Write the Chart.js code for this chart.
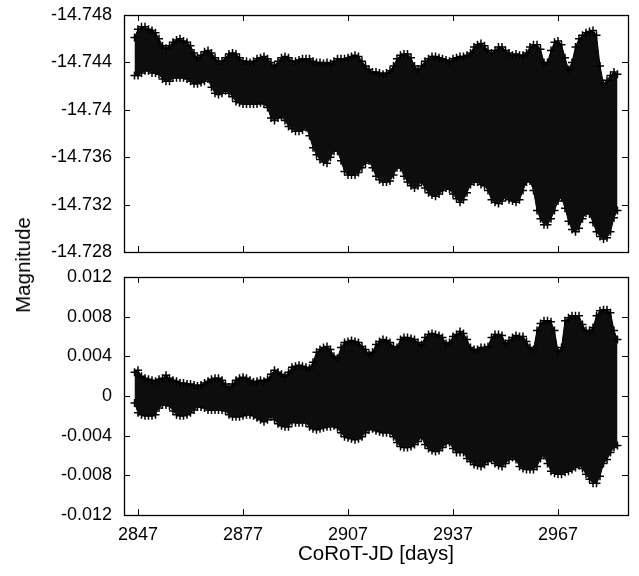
<!DOCTYPE html>
<html>
<head>
<meta charset="utf-8">
<script src="https://cdn.jsdelivr.net/npm/chart.js@4/dist/chart.umd.min.js"></script>
<style>
  body { margin: 0; background: #fff; }
  #wrap { position: relative; width: 639px; height: 576px; }
  .pane { position: absolute; left: 0; width: 639px; }
  #ylab {
    position: absolute; left: 23px; top: 265px;
    transform: translate(-50%, -50%) rotate(-90deg);
    font: 20.5px 'Liberation Sans', Arial, sans-serif; color: #000; white-space: nowrap;
  }
</style>
</head>
<body>
<div id="wrap">
  <div class="pane" style="top:0;height:265px"><canvas id="magChart" width="639" height="265"></canvas></div>
  <div class="pane" style="top:265px;height:311px"><canvas id="resChart" width="639" height="311"></canvas></div>
  <div id="ylab">Magnitude</div>
</div>
<script>
// sampling days (CoRoT-JD) where the band edges were read
const days = [
  2846, 2847, 2848, 2849, 2850, 2851, 2852, 2853, 2854, 2855,
  2856, 2857, 2858, 2859, 2860, 2861, 2862, 2863, 2864, 2865,
  2866, 2867, 2868, 2869, 2870, 2871, 2872, 2873, 2874, 2875,
  2876, 2877, 2878, 2879, 2880, 2881, 2882, 2883, 2884, 2885,
  2886, 2887, 2888, 2889, 2890, 2891, 2892, 2893, 2894, 2895,
  2896, 2897, 2898, 2899, 2900, 2901, 2902, 2903, 2904, 2905,
  2906, 2907, 2908, 2909, 2910, 2911, 2912, 2913, 2914, 2915,
  2916, 2917, 2918, 2919, 2920, 2921, 2922, 2923, 2924, 2925,
  2926, 2927, 2928, 2929, 2930, 2931, 2932, 2933, 2934, 2935,
  2936, 2937, 2938, 2939, 2940, 2941, 2942, 2943, 2944, 2945,
  2946, 2947, 2948, 2949, 2950, 2951, 2952, 2953, 2954, 2955,
  2956, 2957, 2958, 2959, 2960, 2961, 2962, 2963, 2964, 2965,
  2966, 2967, 2968, 2969, 2970, 2971, 2972, 2973, 2974, 2975,
  2976, 2977, 2978, 2979, 2980, 2981, 2982, 2983, 2984
];

// raw magnitude, bright edge of the band
const magUpper = [
  -14.7461, -14.7468, -14.7470, -14.7470, -14.7468, -14.7467, -14.7465, -14.7460, -14.7454, -14.7452,
  -14.7454, -14.7457, -14.7459, -14.7460, -14.7458, -14.7457, -14.7454, -14.7448, -14.7444, -14.7446,
  -14.7449, -14.7450, -14.7448, -14.7444, -14.7441, -14.7441, -14.7444, -14.7447, -14.7448, -14.7447,
  -14.7444, -14.7441, -14.7441, -14.7440, -14.7441, -14.7443, -14.7444, -14.7445, -14.7443, -14.7440,
  -14.7437, -14.7441, -14.7444, -14.7445, -14.7444, -14.7441, -14.7441, -14.7442, -14.7443, -14.7443,
  -14.7443, -14.7441, -14.7440, -14.7440, -14.7439, -14.7440, -14.7439, -14.7441, -14.7443, -14.7443,
  -14.7443, -14.7444, -14.7445, -14.7446, -14.7445, -14.7441, -14.7437, -14.7434, -14.7432, -14.7432,
  -14.7431, -14.7430, -14.7431, -14.7433, -14.7437, -14.7443, -14.7446, -14.7447, -14.7447, -14.7444,
  -14.7437, -14.7434, -14.7437, -14.7441, -14.7443, -14.7445, -14.7445, -14.7444, -14.7443, -14.7442,
  -14.7441, -14.7443, -14.7444, -14.7445, -14.7445, -14.7446, -14.7448, -14.7453, -14.7455, -14.7456,
  -14.7454, -14.7450, -14.7448, -14.7450, -14.7453, -14.7453, -14.7450, -14.7448, -14.7446, -14.7447,
  -14.7446, -14.7446, -14.7448, -14.7453, -14.7455, -14.7455, -14.7451, -14.7440, -14.7440, -14.7450,
  -14.7457, -14.7458, -14.7455, -14.7444, -14.7434, -14.7440, -14.7453, -14.7460, -14.7463, -14.7465,
  -14.7466, -14.7467, -14.7463, -14.7437, -14.7422, -14.7425, -14.7429, -14.7432, -14.7430
];

// raw magnitude, faint edge of the band
const magLower = [
  -14.7429, -14.7429, -14.7431, -14.7433, -14.7433, -14.7431, -14.7431, -14.7430, -14.7426, -14.7424,
  -14.7424, -14.7427, -14.7427, -14.7427, -14.7427, -14.7426, -14.7424, -14.7422, -14.7422, -14.7423,
  -14.7424, -14.7426, -14.7419, -14.7414, -14.7413, -14.7414, -14.7416, -14.7414, -14.7411, -14.7407,
  -14.7406, -14.7405, -14.7405, -14.7405, -14.7405, -14.7405, -14.7406, -14.7405, -14.7402, -14.7393,
  -14.7391, -14.7393, -14.7394, -14.7391, -14.7386, -14.7384, -14.7382, -14.7382, -14.7383, -14.7385,
  -14.7378, -14.7368, -14.7362, -14.7358, -14.7356, -14.7355, -14.7360, -14.7365, -14.7365, -14.7357,
  -14.7348, -14.7345, -14.7345, -14.7345, -14.7347, -14.7351, -14.7355, -14.7357, -14.7351, -14.7344,
  -14.7341, -14.7339, -14.7339, -14.7340, -14.7345, -14.7351, -14.7351, -14.7344, -14.7339, -14.7336,
  -14.7334, -14.7336, -14.7339, -14.7334, -14.7330, -14.7328, -14.7327, -14.7329, -14.7332, -14.7334,
  -14.7333, -14.7329, -14.7325, -14.7322, -14.7324, -14.7330, -14.7337, -14.7339, -14.7339, -14.7337,
  -14.7336, -14.7332, -14.7324, -14.7322, -14.7321, -14.7323, -14.7326, -14.7324, -14.7323, -14.7322,
  -14.7324, -14.7332, -14.7339, -14.7340, -14.7332, -14.7315, -14.7308, -14.7303, -14.7303, -14.7308,
  -14.7315, -14.7323, -14.7326, -14.7317, -14.7306, -14.7299, -14.7297, -14.7300, -14.7308, -14.7313,
  -14.7312, -14.7305, -14.7297, -14.7293, -14.7291, -14.7292, -14.7297, -14.7309, -14.7315
];

// detrended residuals, upper edge
const resUpper = [
  0.0024, 0.0026, 0.0020, 0.0018, 0.0017, 0.0016, 0.0015, 0.0017, 0.0018, 0.0021,
  0.0018, 0.0016, 0.0015, 0.0013, 0.0013, 0.0012, 0.0012, 0.0011, 0.0010, 0.0011,
  0.0013, 0.0015, 0.0017, 0.0018, 0.0018, 0.0016, 0.0012, 0.0009, 0.0012, 0.0016,
  0.0018, 0.0019, 0.0018, 0.0016, 0.0014, 0.0015, 0.0016, 0.0015, 0.0017, 0.0022,
  0.0026, 0.0024, 0.0022, 0.0020, 0.0024, 0.0029, 0.0030, 0.0031, 0.0030, 0.0029,
  0.0028, 0.0034, 0.0044, 0.0047, 0.0049, 0.0050, 0.0047, 0.0040, 0.0038, 0.0049,
  0.0054, 0.0055, 0.0056, 0.0055, 0.0054, 0.0050, 0.0047, 0.0042, 0.0044, 0.0052,
  0.0055, 0.0057, 0.0056, 0.0054, 0.0050, 0.0049, 0.0057, 0.0059, 0.0059, 0.0058,
  0.0057, 0.0054, 0.0052, 0.0059, 0.0062, 0.0063, 0.0062, 0.0061, 0.0059, 0.0053,
  0.0054, 0.0060, 0.0062, 0.0065, 0.0063, 0.0057, 0.0049, 0.0047, 0.0047, 0.0049,
  0.0049, 0.0050, 0.0059, 0.0062, 0.0062, 0.0061, 0.0053, 0.0056, 0.0059, 0.0061,
  0.0060, 0.0060, 0.0055, 0.0049, 0.0047, 0.0066, 0.0073, 0.0076, 0.0076, 0.0075,
  0.0066, 0.0045, 0.0049, 0.0076, 0.0079, 0.0081, 0.0081, 0.0081, 0.0072, 0.0066,
  0.0066, 0.0069, 0.0081, 0.0086, 0.0087, 0.0087, 0.0084, 0.0066, 0.0057
];

// detrended residuals, lower edge
const resLower = [
  -0.0007, -0.0017, -0.0019, -0.0020, -0.0020, -0.0020, -0.0019, -0.0012, -0.0009, -0.0009,
  -0.0010, -0.0015, -0.0019, -0.0020, -0.0020, -0.0019, -0.0017, -0.0014, -0.0011, -0.0011,
  -0.0012, -0.0014, -0.0014, -0.0014, -0.0014, -0.0014, -0.0015, -0.0019, -0.0021, -0.0021,
  -0.0021, -0.0020, -0.0019, -0.0019, -0.0020, -0.0022, -0.0024, -0.0026, -0.0024, -0.0021,
  -0.0024, -0.0028, -0.0030, -0.0031, -0.0031, -0.0026, -0.0027, -0.0027, -0.0027, -0.0027,
  -0.0031, -0.0033, -0.0034, -0.0033, -0.0032, -0.0031, -0.0031, -0.0030, -0.0032, -0.0037,
  -0.0041, -0.0042, -0.0043, -0.0044, -0.0043, -0.0041, -0.0037, -0.0034, -0.0033, -0.0035,
  -0.0036, -0.0037, -0.0037, -0.0037, -0.0041, -0.0047, -0.0051, -0.0052, -0.0052, -0.0051,
  -0.0049, -0.0046, -0.0041, -0.0049, -0.0053, -0.0055, -0.0056, -0.0055, -0.0052, -0.0048,
  -0.0047, -0.0053, -0.0057, -0.0057, -0.0057, -0.0063, -0.0066, -0.0069, -0.0070, -0.0071,
  -0.0069, -0.0066, -0.0064, -0.0068, -0.0070, -0.0071, -0.0068, -0.0064, -0.0062, -0.0064,
  -0.0071, -0.0073, -0.0074, -0.0074, -0.0074, -0.0071, -0.0063, -0.0060, -0.0068, -0.0076,
  -0.0078, -0.0079, -0.0079, -0.0077, -0.0076, -0.0074, -0.0072, -0.0070, -0.0073, -0.0079,
  -0.0084, -0.0088, -0.0088, -0.0081, -0.0068, -0.0064, -0.0057, -0.0052, -0.0050
];

const dayTicks = [2847, 2877, 2907, 2937, 2967];
const magTicks = [-14.748, -14.744, -14.74, -14.736, -14.732, -14.728];
const resTicks = [0.012, 0.008, 0.004, 0, -0.004, -0.008, -0.012];

Chart.defaults.font.family = "'Liberation Sans', Arial, sans-serif";
Chart.defaults.font.size = 18;
Chart.defaults.color = '#000';

const pts = (ys) => days.map((d, i) => ({ x: d, y: ys[i] }));

// gnuplot-like frame with inward tick marks on all four sides
const framePlugin = {
  id: 'frame',
  afterDraw(chart) {
    const { ctx, chartArea: a, scales } = chart;
    ctx.save();
    ctx.strokeStyle = '#000';
    ctx.lineWidth = 1;
    ctx.beginPath();
    scales.x.ticks.forEach(t => {
      const px = Math.round(scales.x.getPixelForValue(t.value)) + 0.5;
      ctx.moveTo(px, a.top); ctx.lineTo(px, a.top + 6);
      ctx.moveTo(px, a.bottom); ctx.lineTo(px, a.bottom - 6);
    });
    scales.y.ticks.forEach(t => {
      const py = Math.round(scales.y.getPixelForValue(t.value)) + 0.5;
      ctx.moveTo(a.left, py); ctx.lineTo(a.left + 6, py);
      ctx.moveTo(a.right, py); ctx.lineTo(a.right - 6, py);
    });
    ctx.stroke();
    ctx.lineWidth = 1.3;
    ctx.strokeRect(Math.round(a.left) + 0.5, Math.round(a.top) + 0.5,
      Math.round(a.right - a.left), Math.round(a.bottom - a.top));
    ctx.restore();
  }
};

function bandSets(hi, lo) {
  const common = {
    borderColor: '#000', borderWidth: 1, tension: 0,
    pointStyle: 'cross', pointRadius: 4, pointBorderWidth: 1.5,
    pointBorderColor: '#000', pointBackgroundColor: '#000'
  };
  return [
    Object.assign({ data: pts(hi), fill: '+1', backgroundColor: '#0d0d0d' }, common),
    Object.assign({ data: pts(lo), fill: false }, common)
  ];
}

// keep the plot frame exactly where the padding puts it
const noPad = s => { s.paddingTop = 0; s.paddingBottom = 0; s.paddingLeft = 0; s.paddingRight = 0; };

function makeChart(id, hi, lo, yTicks, yOpts, xOpts, pad) {
  return new Chart(document.getElementById(id), {
    type: 'line',
    data: { datasets: bandSets(hi, lo) },
    options: {
      responsive: false,
      animation: false,
      layout: { padding: pad },
      plugins: { legend: { display: false }, tooltip: { enabled: false } },
      scales: {
        x: Object.assign({
          type: 'linear', min: 2843, max: 2987,
          grid: { display: false, drawTicks: false },
          border: { display: false },
          afterBuildTicks: s => { s.ticks = dayTicks.map(v => ({ value: v })); }
        }, xOpts),
        y: Object.assign({
          type: 'linear',
          grid: { display: false, drawTicks: false },
          border: { display: false },
          ticks: { padding: 12, autoSkip: false, callback: v => String(v) },
          afterBuildTicks: s => { s.ticks = yTicks.map(v => ({ value: v })); },
          afterFit: s => { s.width = 124; noPad(s); }
        }, yOpts)
      }
    },
    plugins: [framePlugin]
  });
}

makeChart('magChart', magUpper, magLower, magTicks,
  { min: -14.748, max: -14.728, reverse: true },
  { ticks: { display: false }, afterFit: s => { s.height = 0; noPad(s); } },
  { top: 15, right: 11, bottom: 13, left: 0 });

makeChart('resChart', resUpper, resLower, resTicks,
  { min: -0.012, max: 0.012 },
  {
    ticks: { padding: 9, autoSkip: false, maxRotation: 0, callback: v => String(v) },
    title: { display: true, text: 'CoRoT-JD [days]', font: { size: 20.5 }, padding: { top: 0, bottom: 9 } },
    afterFit: s => { s.height = 61; noPad(s); }
  },
  { top: 12, right: 11, bottom: 0, left: 0 });
</script>
</body>
</html>
